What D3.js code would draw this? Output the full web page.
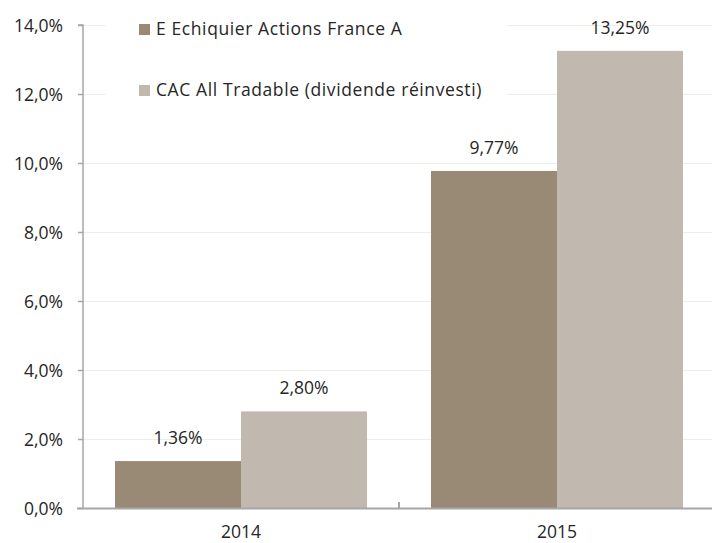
<!DOCTYPE html>
<html><head><meta charset="utf-8">
<script src="https://cdn.jsdelivr.net/npm/d3@7"></script>
<style>
html,body{margin:0;padding:0;background:#fff;}
svg text{font-family:"Open Sans", Lato, sans-serif;fill:#262626;}
</style></head>
<body>
<svg id="chart" width="712" height="543"></svg>
<script>
const categories = ["2014", "2015"];
const seriesNames = ["E Echiquier Actions France A", "CAC All Tradable (dividende réinvesti)"];
const fundValues = [1.36, 9.77];
const indexValues = [2.80, 13.25];
const yTicks = [0, 2, 4, 6, 8, 10, 12, 14];
const colors = ["#998a76", "#c1b9af"];

const svg = d3.select("#chart");
const fs = 17.5;
const mLeft = 83, mRight = 715, mTop = 25, mBottom = 508;

const x0 = d3.scaleBand().domain(categories).range([mLeft, mRight]).paddingInner(0).paddingOuter(0);
const x1 = d3.scaleBand().domain([0, 1]).range([0, x0.bandwidth()]).paddingOuter(0.254).paddingInner(0);
const y = d3.scaleLinear().domain([0, 14]).range([mBottom, mTop]);
const fmt = v => d3.format(".1f")(v).replace(".", ",") + "%";
const fmt2 = v => d3.format(".2f")(v).replace(".", ",") + "%";

// gridlines
svg.append("g").selectAll("line").data(yTicks.filter(d => d > 0)).join("line")
  .attr("x1", mLeft).attr("x2", 712)
  .attr("y1", d => Math.round(y(d)) + 0.5).attr("y2", d => Math.round(y(d)) + 0.5)
  .attr("stroke", "#efeee5").attr("stroke-width", 1);

// legend background box
svg.append("rect").attr("x", 106).attr("y", 0).attr("width", 401).attr("height", 120).attr("fill", "#fff");

// bars
const data = categories.map((c, i) => ({cat: c, vals: [fundValues[i], indexValues[i]]}));
const g = svg.append("g");
data.forEach(d => {
  d.vals.forEach((v, j) => {
    g.append("rect")
      .attr("x", x0(d.cat) + x1(j))
      .attr("width", x1.bandwidth())
      .attr("y", y(v))
      .attr("height", y(0) - y(v))
      .attr("fill", colors[j]);
    g.append("text")
      .attr("x", x0(d.cat) + x1(j) + x1.bandwidth() / 2)
      .attr("y", y(v) - 17)
      .attr("text-anchor", "middle")
      .attr("font-size", fs)
      .text(fmt2(v));
  });
});

// y axis
const yAxis = d3.axisLeft(y).tickValues(yTicks).tickFormat(fmt).tickSize(5).tickPadding(15);
const ya = svg.append("g").attr("transform", `translate(${mLeft},0)`).call(yAxis);
ya.select(".domain").attr("stroke", "#a6a6a6").attr("stroke-width", 1.5).attr("d", `M-5,${mTop}H0V${mBottom}`);
ya.selectAll(".tick line").attr("stroke", "#a6a6a6").attr("stroke-width", 1.5);
ya.selectAll(".tick text").attr("font-size", fs).attr("font-family", null).attr("dy", "0.35em").attr("fill", "#262626");

// x axis
const xa = svg.append("g").attr("transform", `translate(0,${mBottom})`);
xa.append("line").attr("x1", mLeft - 6).attr("x2", 712).attr("y1", 0.5).attr("y2", 0.5)
  .attr("stroke", "#a6a6a6").attr("stroke-width", 2);
xa.selectAll("line.sep").data(categories.slice(1)).join("line").attr("class", "sep")
  .attr("x1", d => x0(d)).attr("x2", d => x0(d)).attr("y1", 0).attr("y2", -6)
  .attr("stroke", "#a6a6a6").attr("stroke-width", 2);
xa.selectAll("text").data(categories).join("text")
  .attr("x", d => x0(d) + x0.bandwidth() / 2)
  .attr("y", 30)
  .attr("text-anchor", "middle").attr("font-size", fs)
  .text(d => d);

// legend
const leg = svg.append("g");
seriesNames.forEach((n, i) => {
  const yy = 29 + i * 61;
  leg.append("rect").attr("x", 139).attr("y", yy - 5).attr("width", 11).attr("height", 11).attr("fill", colors[i]);
  leg.append("text").attr("x", 156).attr("y", yy).attr("dy", "0.35em").attr("font-size", fs)
    .attr("letter-spacing", 0.6).text(n);
});
</script>
</body></html>
